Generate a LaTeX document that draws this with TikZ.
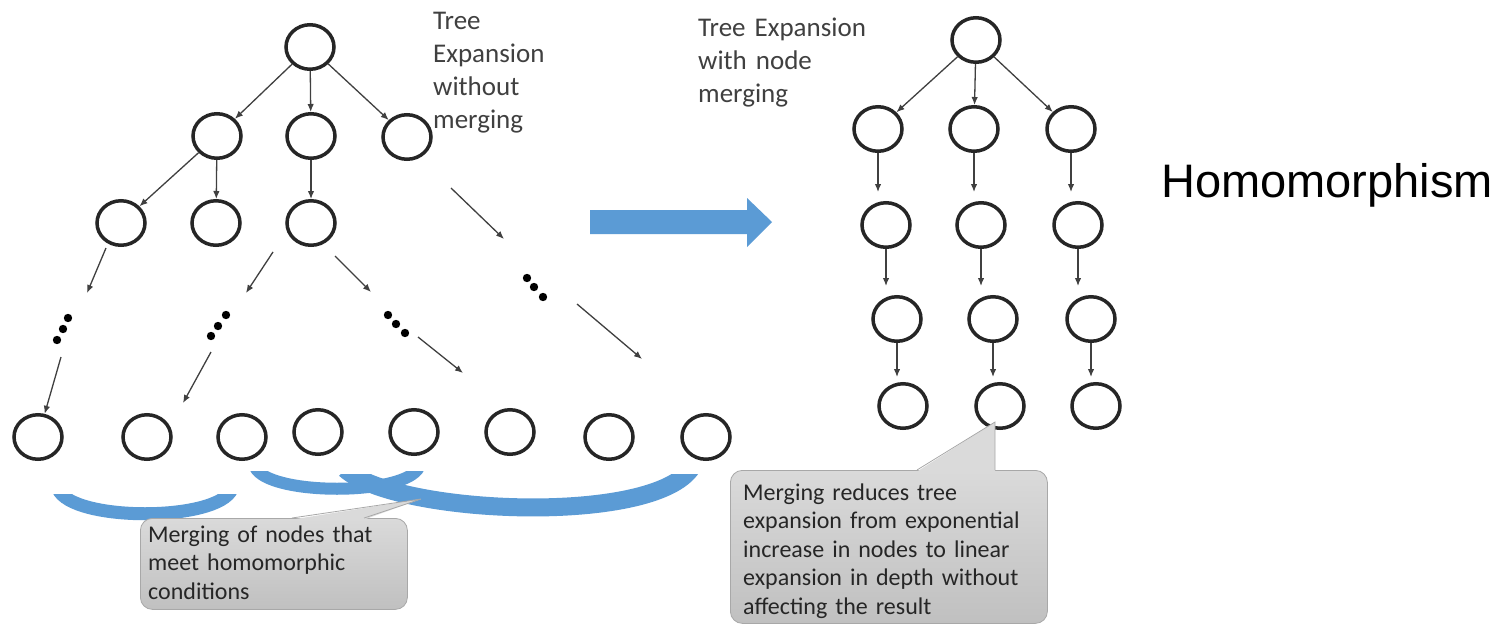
\documentclass[tikz,border=0pt]{standalone}
\usepackage{fontspec}
\setmainfont{Carlito}
\newfontfamily\arialfont{Liberation Sans}
\usetikzlibrary{shapes.geometric,arrows.meta}

\definecolor{edgegray}{HTML}{404040}
\definecolor{ringblack}{HTML}{262626}
\definecolor{mergeblue}{HTML}{5B9BD5}
\definecolor{calltop}{HTML}{DADADA}
\definecolor{callbot}{HTML}{C0C0C0}
\definecolor{callline}{HTML}{A8A8A8}
\definecolor{headgray}{HTML}{404040}
\definecolor{notetext}{HTML}{262626}

\begin{document}
\begin{tikzpicture}[x=1pt,y=-1pt,
  tnode/.style={ellipse,draw=ringblack,line width=3.5pt,minimum width=48pt,minimum height=44.5pt,inner sep=0pt},
  arr/.style={draw=edgegray,line width=1.3pt,-{Latex[length=8pt,width=6.5pt]}},
  vdrop/.style={arr,shorten >=9pt},
  vdropshort/.style={arr,shorten >=5pt},
  dotmark/.style={fill=black},
  mergeband/.style={draw=mergeblue,line cap=butt},
  headtxt/.style={font=\fontsize{27}{33}\selectfont,text=headgray,anchor=base west,inner sep=0pt,align=left},
  notetxt/.style={font=\fontsize{24}{28.5}\selectfont,text=notetext,anchor=base west,inner sep=0pt,align=left},
  callbox/.style={rectangle,rounded corners=12pt,draw=callline,line width=0.8pt,top color=calltop,bottom color=callbot,inner sep=0pt,anchor=north west},
]
\useasboundingbox (0,0) rectangle (1500,626);
\fill[white] (0,0) rectangle (1500,626);

% ---------- merge bands under the bottom row (thick arcs cut flat at the top) ----------
\begin{scope}
  \clip (0,494) rectangle (1500,626);
  \draw[mergeband,line width=13pt] (58,489) .. controls (72,522) and (218,522) .. (232,489);
\end{scope}
\begin{scope}
  \clip (0,474) rectangle (1500,626);
  \draw[mergeband,line width=18pt] (345,469) .. controls (395,515) and (655,526) .. (692,467);
\end{scope}
\begin{scope}
  \clip (0,471) rectangle (1500,626);
  \draw[mergeband,line width=12pt] (255,467) .. controls (268,496) and (406,496) .. (419,467);
\end{scope}

% ---------- tree expansion without merging ----------
\node[tnode] (t0)  at (310,47)  {};
\node[tnode] (t1a) at (217,136) {};
\node[tnode] (t1b) at (311,136) {};
\node[tnode] (t1c) at (407,137) {};
\node[tnode] (t2a) at (121,223) {};
\node[tnode] (t2b) at (216,223) {};
\node[tnode] (t2c) at (311,223) {};

\node[tnode] (b1) at (38,437)  {};
\node[tnode] (b2) at (147,437) {};
\node[tnode] (b3) at (242,437) {};
\node[tnode] (b4) at (318,432) {};
\node[tnode] (b5) at (414,432) {};
\node[tnode] (b6) at (510,432) {};
\node[tnode] (b7) at (609,437) {};
\node[tnode] (b8) at (706,437) {};

\draw[arr] (t0) -- (t1a);
\draw[arr] (t0) -- (t1b);
\draw[arr] (t0) -- (t1c);
\draw[arr] (t1a) -- (t2a);
\draw[arr] (t1a) -- (t2b);
\draw[arr] (t1b) -- (t2c);

% continuation arrows and ellipsis dots
\coordinate (s1) at (106,248); \coordinate (e1) at (87,293);
\coordinate (s2) at (61,357);
\coordinate (s3) at (273,252); \coordinate (e3) at (246,293);
\coordinate (s4) at (211,352); \coordinate (e4) at (183,403);
\coordinate (s5) at (335,256); \coordinate (e5) at (371,292);
\coordinate (s6) at (418,337); \coordinate (e6) at (463,373);
\coordinate (s7) at (451,188); \coordinate (e7) at (504,239);
\coordinate (s8) at (577,304); \coordinate (e8) at (642,359);

\draw[arr] (s1) -- (e1);
\draw[arr] (s2) -- (b1);
\draw[arr] (s3) -- (e3);
\draw[arr] (s4) -- (e4);
\draw[arr] (s5) -- (e5);
\draw[arr] (s6) -- (e6);
\draw[arr] (s7) -- (e7);
\draw[arr] (s8) -- (e8);

\foreach \p in {(68,318),(63,329),(57,340),
                (226,315),(218,326),(211,336),
                (388,315),(396,324),(405,333),
                (527,278),(534,287),(543,297)}
  \fill[dotmark] \p circle (4.2);

\node[headtxt,text width=130pt] (headA) at (433,30) {Tree\\Expansion\\without\\merging};

% ---------- transformation arrow ----------
\fill[mergeblue] (590,210) -- (747,210) -- (747,198) -- (772,222)
  -- (747,247) -- (747,234) -- (590,234) -- cycle;

% ---------- tree expansion with node merging ----------
\node[headtxt,text width=200pt] (headB) at (698,37) {Tree Expansion\\with node\\merging};

\node[tnode] (r0)  at (976,40)  {};
\node[tnode] (r1a) at (878,129) {};
\node[tnode] (r1b) at (974,129) {};
\node[tnode] (r1c) at (1071,129) {};
\node[tnode] (r2a) at (886,225) {};
\node[tnode] (r2b) at (981,225) {};
\node[tnode] (r2c) at (1078,225) {};
\node[tnode] (r3a) at (897,319) {};
\node[tnode] (r3b) at (993,319) {};
\node[tnode] (r3c) at (1091,319) {};
\node[tnode] (r4a) at (903,406) {};
\node[tnode] (r4b) at (1000,406) {};
\node[tnode] (r4c) at (1096,406) {};

\draw[arr] (r0) -- (r1a);
\draw[arr] (r0) -- (r1b);
\draw[arr] (r0) -- (r1c);
\foreach \c in {a,b,c}{
  \draw[vdrop] (r1\c.south) -- (r1\c.south |- r2\c.north);
  \draw[vdrop] (r2\c.south) -- (r2\c.south |- r3\c.north);
  \draw[vdropshort] (r3\c.south) -- (r3\c.south |- r4\c.north);
}

\node[font=\arialfont\fontsize{47}{52}\selectfont,text=black,anchor=base west,inner sep=0pt] (homo) at (1161,197) {Homomorphism};

% ---------- callouts ----------
\node[callbox,minimum width=267pt,minimum height=91pt] (note1) at (140,518) {};
\coordinate (n1l) at (292,518); \coordinate (n1r) at (364,518); \coordinate (n1tip) at (421,499);
\fill[calltop] (292,519.6) -- (n1tip) -- (364,519.6) -- cycle;
\draw[callline,line width=0.8pt] (n1l) -- (n1tip) -- (n1r);
\node[notetxt,text width=255pt] (note1txt) at (148,542) {Merging of nodes that\\meet homomorphic\\conditions};

\node[callbox,minimum width=317pt,minimum height=153pt] (note2) at (730,470) {};
\coordinate (n2l) at (917,470); \coordinate (n2r) at (995,470); \coordinate (n2tip) at (995,422);
\fill[calltop] (917,471.6) -- (n2tip) -- (995,471.6) -- cycle;
\draw[callline,line width=0.8pt] (n2l) -- (n2tip) -- (n2r);
\node[notetxt,text width=300pt] (note2txt) at (743,500) {Merging reduces tree\\expansion from exponential\\increase in nodes to linear\\expansion in depth without\\affecting the result};

\end{tikzpicture}
\end{document}
